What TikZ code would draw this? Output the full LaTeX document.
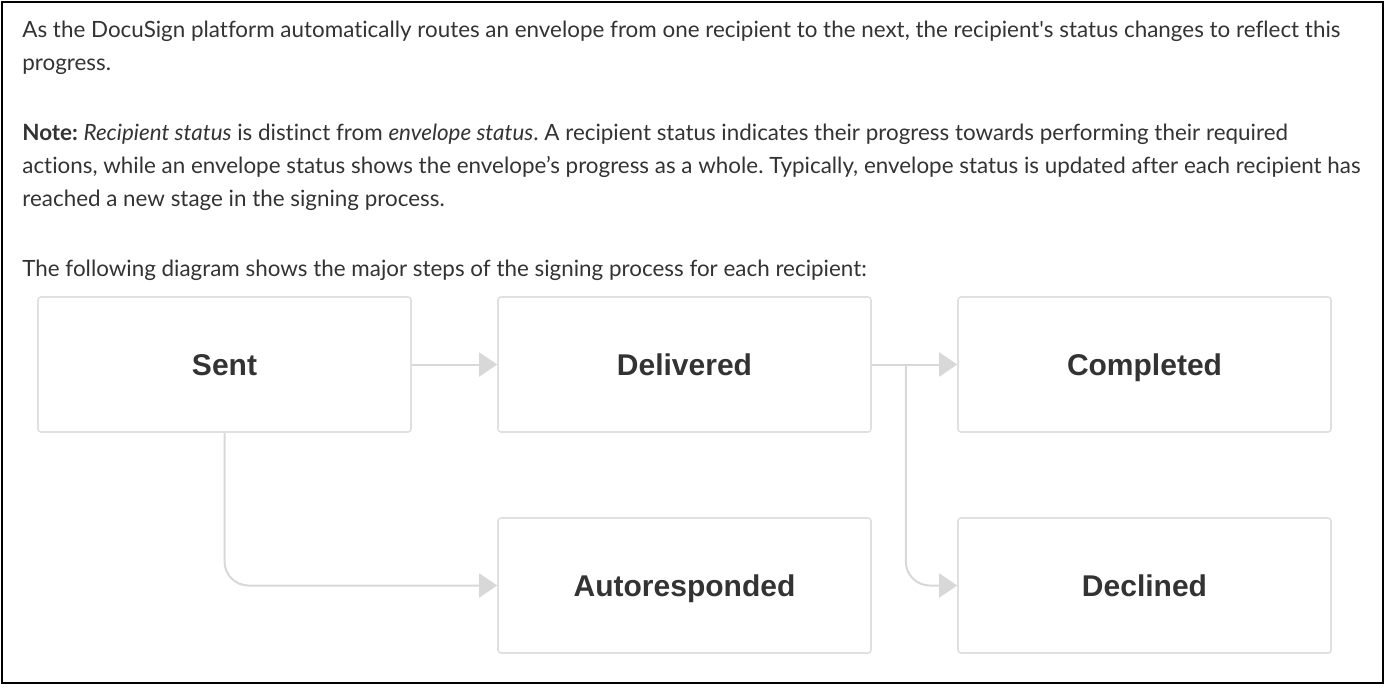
\documentclass[tikz,border=0pt]{standalone}
\usepackage{fontspec}
\setmainfont{Lato}[Ligatures={TeX,NoCommon}]
\newfontfamily\boxfont{Liberation Sans}
\usepackage{xcolor}
\usetikzlibrary{arrows.meta,positioning}
\definecolor{boxline}{HTML}{E0E0E0}
\definecolor{flowgray}{HTML}{D8D8D8}
\definecolor{labelgray}{HTML}{333333}
\definecolor{bodygray}{HTML}{333333}
\frenchspacing

\begin{document}
\begin{tikzpicture}[x=0.5pt, y=-0.5pt, >={Triangle[length=9pt,width=12pt]},
  font=\fontsize{11.2}{16.5}\selectfont, node distance=42.7pt,
  st/.style={rectangle, draw=boxline, line width=0.8pt, rounded corners=1.5pt,
             fill=white, minimum width=186.5pt, minimum height=67.5pt,
             inner sep=0pt, text=labelgray, text height=11pt, text depth=0pt,
             font=\boxfont\bfseries\fontsize{15}{18}\selectfont},
  flow/.style={->, draw=flowgray, line width=1pt, rounded corners=12pt},
  para/.style={anchor=base west, inner sep=0pt, align=left, text=bodygray}]
  \useasboundingbox (0,0) rectangle (1387,687);
  \draw[line width=1.25pt] (2,2) rectangle (1383,683);

  % text above the diagram (anchored at the last line)
  \node[para] (intro) at (22,70) {As the DocuSign platform automatically routes an envelope from one recipient to the next, the recipient\textquotesingle s status changes to reflect this\\progress.};
  \node[para] (note) at (22,206) {\textbf{Note:} \textit{Recipient status} is distinct from \textit{envelope status}. A recipient status indicates their progress towards performing their required\\actions, while an envelope status shows the envelope’s progress as a whole. Typically, envelope status is updated after each recipient has\\reached a new stage in the signing process.};
  \node[para] (lead) at (22,276) {The following diagram shows the major steps of the signing process for each recipient:};

  % recipient states
  \node[st] (sent) at (224.5,364.5) {Sent};
  \node[st, right=of sent] (deliv) {Delivered};
  \node[st, right=of deliv] (compl) {Completed};
  \node[st, below=42.2pt of deliv] (autor) {Autoresponded};
  \node[st, below=42.2pt of compl] (decl) {Declined};
  \coordinate[right=17pt of deliv.east] (split);

  \draw[flow] (sent) -- (deliv);
  \draw[flow] (deliv) -- (compl);
  \draw[flow] (sent.south) |- (autor.west);
  \draw[flow] (split) |- (decl.west);
\end{tikzpicture}
\end{document}
